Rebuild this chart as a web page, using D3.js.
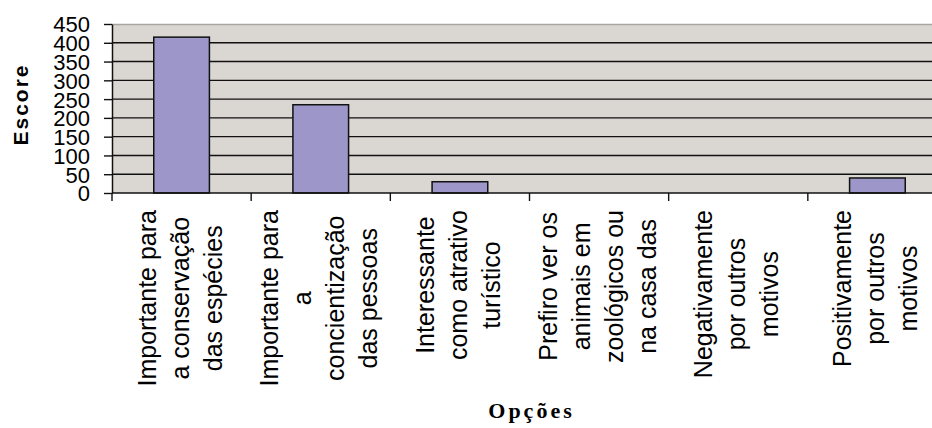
<!DOCTYPE html>
<html>
<head>
<meta charset="utf-8">
<script src="https://cdn.jsdelivr.net/npm/d3@7"></script>
<style>
  html, body { margin: 0; padding: 0; background: #fff; }
  svg { display: block; }
</style>
</head>
<body>
<svg id="chart" width="932" height="428"></svg>
<script>
// Categories (keys) and their wrapped label lines
const categories = ["conservacao", "conscientizacao", "turistico", "zoologicos", "negativamente", "positivamente"];
const categoryLines = [
  ["Importante para", "a conservação", "das espécies"],
  ["Importante para", "a", "concientização", "das pessoas"],
  ["Interessante", "como atrativo", "turístico"],
  ["Prefiro ver os", "animais em", "zoológicos ou", "na casa das"],
  ["Negativamente", "por outros", "motivos"],
  ["Positivamente", "por outros", "motivos"]
];
// Score per category
const scores = [415, 235, 30, 0, 0, 40];
// Value-axis ticks
const yTicks = [0, 50, 100, 150, 200, 250, 300, 350, 400, 450];
const yTitle = "Escore";
const xTitle = "Opções";

const svg = d3.select("#chart");

const plot = { left: 112, right: 947, top: 24, bottom: 193 };

const y = d3.scaleLinear().domain([0, 450]).range([plot.bottom, plot.top]);
// Category slots (boundaries) and bar positions within each slot
const xSlot = d3.scaleBand().domain(categories).range([plot.left, plot.right]);
const xBar = d3.scaleBand().domain(categories).range([plot.left, plot.right])
  .paddingInner(0.6).paddingOuter(0.3);

// Plot background
svg.append("rect")
  .attr("x", plot.left).attr("y", plot.top)
  .attr("width", plot.right - plot.left).attr("height", plot.bottom - plot.top)
  .attr("fill", "#dad6d2");

// Top border of plot area
svg.append("line")
  .attr("x1", plot.left).attr("x2", plot.right)
  .attr("y1", plot.top + 0.5).attr("y2", plot.top + 0.5)
  .attr("stroke", "#a8a4a0").attr("stroke-width", 1.5);

// Horizontal gridlines
svg.append("g").selectAll("line")
  .data(yTicks.filter(d => d > 0 && d < 450))
  .join("line")
  .attr("x1", plot.left).attr("x2", plot.right)
  .attr("y1", d => y(d)).attr("y2", d => y(d))
  .attr("stroke", "#111").attr("stroke-width", 1.4);

// Bars
svg.append("g").selectAll("rect")
  .data(categories.map((c, i) => ({ c, v: scores[i] })).filter(d => d.v > 0))
  .join("rect")
  .attr("x", d => xBar(d.c))
  .attr("width", xBar.bandwidth())
  .attr("y", d => y(d.v))
  .attr("height", d => y(0) - y(d.v))
  .attr("fill", "#9c96c9")
  .attr("stroke", "#111")
  .attr("stroke-width", 1.5);

// Value axis
const yAxis = svg.append("g")
  .attr("transform", `translate(${plot.left},0)`)
  .call(d3.axisLeft(y).tickValues(yTicks).tickSize(8).tickPadding(14).tickSizeOuter(0));
yAxis.select(".domain").attr("stroke", "#111").attr("stroke-width", 1.5);
yAxis.selectAll(".tick line").attr("stroke", "#111").attr("stroke-width", 1.4);
yAxis.selectAll(".tick text")
  .attr("font-family", "'Liberation Sans', Arial, sans-serif")
  .attr("font-size", 22)
  .attr("fill", "#000")
  .attr("dy", "0.36em");

// Category axis line
svg.append("line")
  .attr("x1", plot.left).attr("x2", plot.right)
  .attr("y1", plot.bottom).attr("y2", plot.bottom)
  .attr("stroke", "#111").attr("stroke-width", 1.5);

// Category boundary ticks
const bounds = categories.map(c => xSlot(c));
svg.append("g").selectAll("line")
  .data(bounds)
  .join("line")
  .attr("x1", d => d).attr("x2", d => d)
  .attr("y1", plot.bottom).attr("y2", plot.bottom + 8)
  .attr("stroke", "#111").attr("stroke-width", 1.4);

// Rotated, wrapped category labels
const lineGap = 33;
const labelTop = 210;
const labelFont = "'Liberation Sans', Arial, sans-serif";
const labels = svg.append("g");
categories.forEach((c, i) => {
  const lines = categoryLines[i];
  const cx = xSlot(c) + xSlot.bandwidth() / 2;
  const g = labels.append("g");
  const texts = g.selectAll("text")
    .data(lines)
    .join("text")
    .attr("font-family", labelFont)
    .attr("font-size", 25)
    .attr("fill", "#000")
    .attr("text-anchor", "middle")
    .text(d => d);
  const maxLen = d3.max(texts.nodes(), n => n.getComputedTextLength());
  const cy = labelTop + maxLen / 2;
  texts.attr("transform", (d, j) => {
    const bx = cx + (j - (lines.length - 1) / 2) * lineGap + 7;
    return `translate(${bx},${cy}) rotate(-90)`;
  });
});

// Axis titles
svg.append("text")
  .attr("transform", `translate(28,${(plot.top + plot.bottom) / 2 - 4}) rotate(-90)`)
  .attr("text-anchor", "middle")
  .attr("font-family", "'Liberation Sans', Arial, sans-serif")
  .attr("font-weight", "bold")
  .attr("font-size", 21)
  .attr("letter-spacing", 2)
  .attr("fill", "#000")
  .text(yTitle);

svg.append("text")
  .attr("x", (plot.left + plot.right) / 2 + 2)
  .attr("y", 418)
  .attr("text-anchor", "middle")
  .attr("font-family", "'Liberation Serif', 'Times New Roman', serif")
  .attr("font-weight", "bold")
  .attr("font-size", 22)
  .attr("letter-spacing", 3)
  .attr("fill", "#000")
  .text(xTitle);
</script>
</body>
</html>
